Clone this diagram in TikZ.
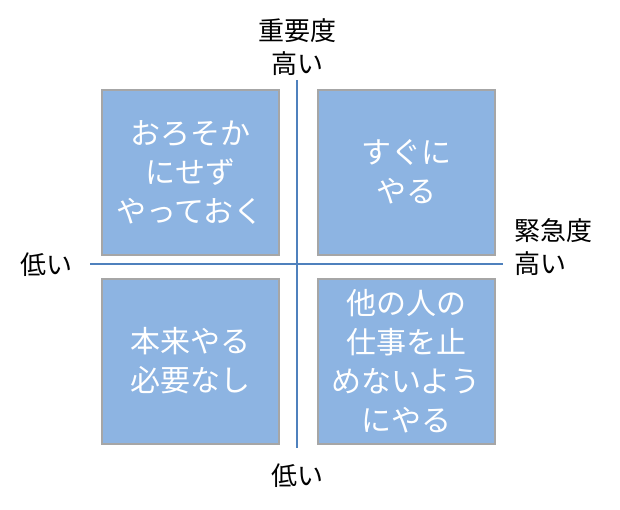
\documentclass[tikz,border=0pt]{standalone}
\usepackage{fontspec}
\newfontfamily\jp{Noto Sans CJK JP}
\definecolor{boxfill}{HTML}{8DB4E2}
\definecolor{boxline}{HTML}{A6A6A6}
\definecolor{axis}{HTML}{4F81BD}
\begin{document}
\begin{tikzpicture}[x=1pt,y=-1pt,
  quad/.style={draw=boxline,line width=2pt,fill=boxfill,minimum width=177pt,minimum height=165pt,
    inner sep=0pt,text=white,align=center,font=\jp\fontsize{30}{39}\selectfont},
  lab/.style={align=center,font=\jp\fontsize{26}{33}\selectfont,text=black,inner sep=0pt},
  axisline/.style={draw=axis,line width=2pt}]
\useasboundingbox (0,0) rectangle (620,509);
\coordinate (vt) at (297,80);
\coordinate (vb) at (297,448);
\coordinate (hl) at (90,264);
\coordinate (hr) at (503,264);
\draw[axisline] (vt) -- (vb);
\draw[axisline] (hl) -- (hr);
\node[quad] (tl) at (190,172) {おろそか\\にせず\\やっておく};
\node[quad] (tr) at (406,172) {すぐに\\やる};
\node[quad] (bl) at (190,361) {本来やる\\必要なし};
\node[quad] (br) at (406,361) {他の人の\\仕事を止\\めないよう\\にやる};
\node[lab] (top) at (297,47) {重要度\\高い};
\node[lab] (left) at (46,265) {低い};
\node[lab,align=left,anchor=west] (right) at (514,247) {緊急度\\高い};
\node[lab] (bottom) at (297,476) {低い};
\end{tikzpicture}
\end{document}
